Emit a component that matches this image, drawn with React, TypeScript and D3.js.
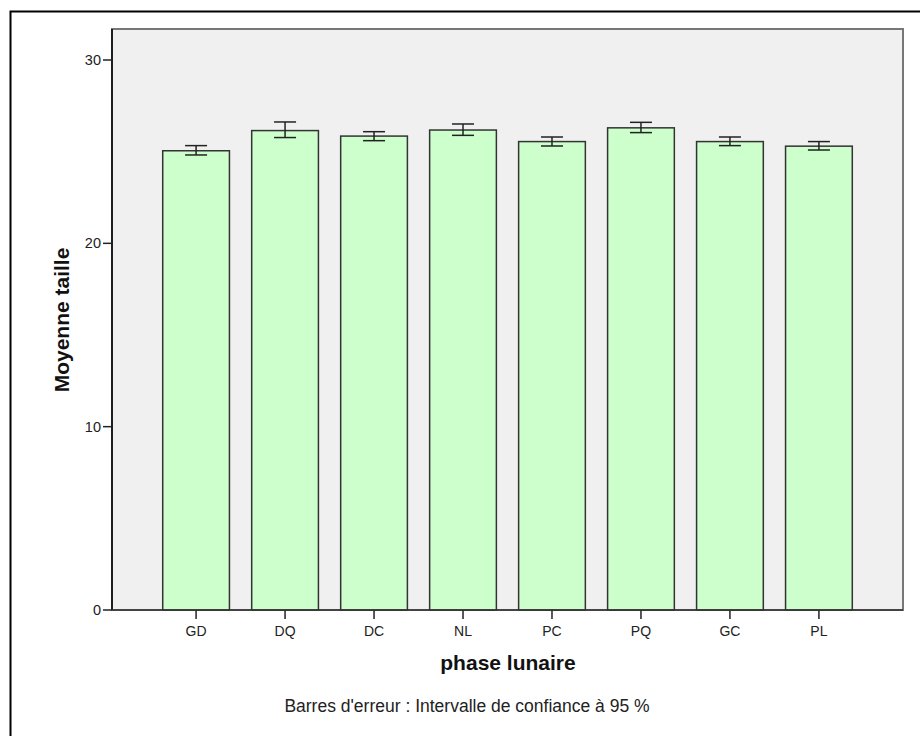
import React from 'react'
import * as d3 from 'd3'

// moyennes et IC 95%
const phases = ['GD', 'DQ', 'DC', 'NL', 'PC', 'PQ', 'GC', 'PL']
const moyennes = [25.05, 26.15, 25.85, 26.18, 25.55, 26.3, 25.55, 25.3]
const icBas = [24.82, 25.77, 25.6, 25.89, 25.31, 26.04, 25.33, 25.09]
const icHaut = [25.33, 26.62, 26.09, 26.51, 25.8, 26.6, 25.8, 25.55]
const yTicks = [0, 10, 20, 30]

const W = 920
const H = 736
const font = 'Arial, "Liberation Sans", sans-serif'

const App = () => {
  const m = { top: 29, right: 17, bottom: 126, left: 112 }
  const x0 = m.left
  const x1 = W - m.right
  const yBase = H - m.bottom

  const x = d3.scaleBand<string>().domain(phases).range([x0, x1])
    .paddingInner(0.25).paddingOuter(0.57)
  const y = d3.scaleLinear().domain([0, 30]).range([yBase, 60])
  const yTop = m.top

  const bw = x.bandwidth()
  const cap = 11

  return (
    <svg width={W} height={H} style={{ position: 'absolute', left: 0, top: 0, background: '#fff' }}>
      {/* cadre extérieur */}
      <rect x={10.5} y={11.5} width={930} height={760} fill="none" stroke="#000" strokeWidth={2} />

      {/* zone de tracé */}
      <rect x={x0} y={yTop} width={x1 - x0} height={yBase - yTop} fill="#f0f0f0" stroke="#777" strokeWidth={2} />

      {phases.map((p, i) => (
        <g key={p}>
          <rect x={x(p)} y={y(moyennes[i])} width={bw} height={yBase - y(moyennes[i])}
            fill="#ccffcc" stroke="#333" strokeWidth={1.5} />
          <line x1={x(p)! + bw / 2} x2={x(p)! + bw / 2} y1={y(icBas[i])} y2={y(icHaut[i])} stroke="#222" strokeWidth={1.5} />
          <line x1={x(p)! + bw / 2 - cap} x2={x(p)! + bw / 2 + cap} y1={y(icHaut[i])} y2={y(icHaut[i])} stroke="#222" strokeWidth={1.5} />
          <line x1={x(p)! + bw / 2 - cap} x2={x(p)! + bw / 2 + cap} y1={y(icBas[i])} y2={y(icBas[i])} stroke="#222" strokeWidth={1.5} />
          <line x1={x(p)! + bw / 2} x2={x(p)! + bw / 2} y1={yBase} y2={yBase + 9} stroke="#222" strokeWidth={1.5} />
          <text x={x(p)! + bw / 2} y={yBase + 26} textAnchor="middle" fontFamily={font} fontSize={14} fill="#222">{p}</text>
        </g>
      ))}

      {/* axes */}
      <line x1={x0} x2={x0} y1={yTop} y2={yBase} stroke="#000" strokeWidth={1.5} />
      <line x1={x0} x2={x1} y1={yBase} y2={yBase} stroke="#333" strokeWidth={1.5} />
      {yTicks.map(t => (
        <g key={t}>
          <line x1={x0 - 9} x2={x0} y1={y(t)} y2={y(t)} stroke="#222" strokeWidth={1.5} />
          <text x={x0 - 11} y={y(t) + 5} textAnchor="end" fontFamily={font} fontSize={14.5} fill="#222">{t}</text>
        </g>
      ))}

      <text transform={`translate(69,320) rotate(-90)`} textAnchor="middle"
        fontFamily={font} fontSize={21} fontWeight="bold" fill="#111">Moyenne taille</text>
      <text x={508} y={670} textAnchor="middle" fontFamily={font} fontSize={21} fontWeight="bold" fill="#111">phase lunaire</text>
      <text x={467} y={712} textAnchor="middle" fontFamily={font} fontSize={17.5} fill="#222">Barres d'erreur : Intervalle de confiance à 95 %</text>
    </svg>
  )
}

export default App
